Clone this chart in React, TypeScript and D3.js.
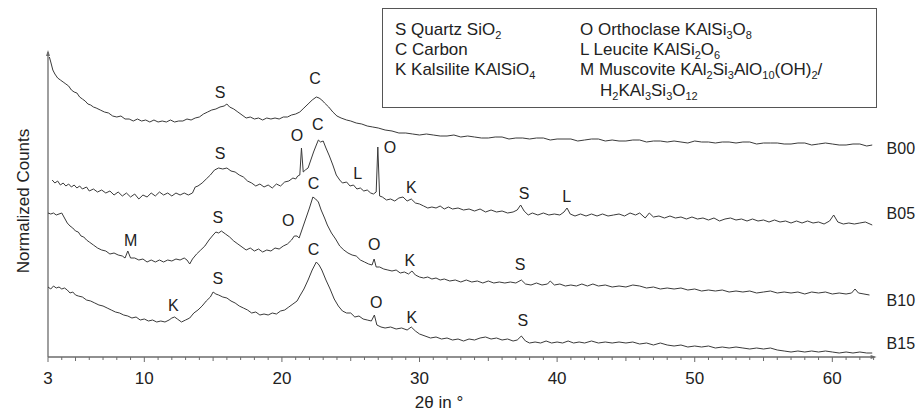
import React from "react";
import * as d3 from "d3";

// ---- data (2θ in degrees, normalized counts incl. stacking offset) ----
const b00: [number, number][] = [
  [3.1, 300], [3.2, 295], [3.35, 287], [3.5, 283], [3.7, 279], [3.9, 277], [4.1, 275], [4.3, 273], [4.5, 271],
  [4.7, 267], [4.9, 265], [5.1, 264], [5.3, 260], [5.5, 258], [5.7, 256], [5.9, 253], [6.1, 252], [6.3, 250],
  [6.5, 249], [6.8, 247], [7.1, 245], [7.4, 244], [7.7, 241], [8.0, 240], [8.3, 241], [8.6, 238], [8.9, 238],
  [9.2, 236], [9.5, 238], [9.8, 236], [10.1, 237], [10.4, 235], [10.7, 237], [11.0, 235], [11.3, 236], [11.6, 235],
  [11.9, 237], [12.2, 235], [12.5, 236], [12.8, 236], [13.1, 238], [13.4, 237], [13.7, 239], [14.0, 240],
  [14.3, 243], [14.6, 245], [14.9, 247], [15.2, 248], [15.5, 250], [15.8, 251], [16.0, 253], [16.2, 250],
  [16.5, 248], [16.8, 245], [17.1, 242], [17.4, 239], [17.7, 240], [18.0, 238], [18.3, 239], [18.6, 237],
  [18.9, 239], [19.2, 238], [19.5, 239], [19.8, 238], [20.1, 240], [20.4, 240], [20.7, 242], [21.0, 243],
  [21.3, 245], [21.6, 249], [21.9, 253], [22.2, 257], [22.5, 260], [22.7, 259], [22.9, 257], [23.1, 254],
  [23.4, 250], [23.7, 245], [24.0, 241], [24.3, 239], [24.7, 237], [25.0, 236], [25.4, 234], [25.8, 233],
  [26.2, 231], [26.6, 230], [27.0, 229], [27.5, 227], [28.0, 226], [28.5, 224], [29.0, 224], [29.5, 223],
  [30.0, 222], [30.5, 223], [31.0, 222], [31.5, 221], [32.0, 221], [32.5, 222], [33.0, 220], [33.5, 221],
  [34.0, 220], [34.5, 219], [35.0, 219], [35.5, 220], [36.0, 220], [36.5, 218], [37.0, 219], [37.5, 219],
  [38.0, 218], [38.5, 219], [39.0, 219], [39.5, 217], [40.0, 218], [40.5, 218], [41.0, 218], [41.5, 216],
  [42.0, 217], [42.5, 218], [43.0, 218], [43.5, 216], [44.0, 217], [44.5, 216], [45.0, 216], [45.5, 217],
  [46.0, 217], [46.5, 215], [47.0, 216], [47.5, 216], [48.0, 215], [48.5, 216], [49.0, 215], [49.5, 214],
  [50.0, 216], [50.5, 215], [51.0, 215], [51.5, 214], [52.0, 215], [52.5, 215], [53.0, 214], [53.5, 215],
  [54.0, 215], [54.5, 213], [55.0, 214], [55.5, 214], [56.0, 214], [56.5, 213], [57.0, 213], [57.5, 214],
  [58.0, 214], [58.5, 212], [59.0, 213], [59.5, 214], [60.0, 213], [60.5, 212], [61.0, 212], [61.5, 213],
  [62.0, 213], [62.5, 211], [62.9, 212],
];

const b05: [number, number][] = [
  [3.3, 177], [3.5, 174], [3.7, 176], [3.9, 172], [4.1, 174], [4.3, 171], [4.5, 173], [4.7, 170], [4.9, 172],
  [5.1, 169], [5.3, 171], [5.5, 168], [5.8, 170], [6.0, 166], [6.3, 168], [6.6, 165], [6.9, 167], [7.2, 164],
  [7.5, 166], [7.8, 162], [8.1, 165], [8.4, 161], [8.7, 164], [9.0, 160], [9.3, 163], [9.6, 158], [9.9, 162],
  [10.2, 160], [10.5, 164], [10.8, 161], [11.1, 165], [11.4, 162], [11.7, 164], [12.0, 161], [12.3, 164],
  [12.6, 162], [12.9, 164], [13.2, 162], [13.5, 164], [13.7, 170], [13.9, 171], [14.2, 174], [14.5, 178],
  [14.8, 182], [15.1, 187], [15.4, 189], [15.7, 188], [16.0, 189], [16.3, 186], [16.6, 185], [16.9, 182],
  [17.2, 180], [17.5, 176], [17.8, 174], [18.1, 171], [18.4, 173], [18.7, 170], [19.0, 172], [19.3, 169],
  [19.6, 173], [19.9, 171], [20.2, 175], [20.5, 176], [20.8, 179], [21.0, 178], [21.15, 181], [21.3, 182],
  [21.42, 209], [21.55, 185], [21.7, 187], [21.9, 189], [22.1, 197], [22.3, 205], [22.5, 212], [22.65, 217],
  [22.8, 215], [23.0, 216], [23.2, 209], [23.45, 201], [23.7, 192], [23.95, 182], [24.2, 177], [24.4, 174],
  [24.7, 175], [24.95, 171], [25.2, 172], [25.45, 168], [25.7, 169], [25.95, 166], [26.2, 167], [26.45, 164],
  [26.65, 163], [26.85, 165], [26.97, 210], [27.1, 161], [27.3, 160], [27.6, 157], [27.9, 158], [28.2, 156],
  [28.5, 159], [28.8, 160], [29.1, 156], [29.4, 158], [29.7, 154], [30.0, 153], [30.3, 151], [30.6, 149],
  [30.9, 150], [31.2, 149], [31.5, 151], [31.8, 148], [32.1, 150], [32.4, 148], [32.8, 149], [33.2, 147],
  [33.6, 148], [34.0, 146], [34.4, 148], [34.8, 145], [35.2, 147], [35.6, 145], [36.0, 146], [36.4, 144],
  [36.8, 145], [37.1, 147], [37.35, 152], [37.6, 146], [37.9, 142], [38.2, 144], [38.6, 142], [39.0, 144],
  [39.4, 142], [39.8, 143], [40.2, 142], [40.5, 145], [40.72, 149], [40.95, 143], [41.3, 141], [41.7, 143],
  [42.1, 141], [42.5, 143], [42.9, 141], [43.3, 143], [43.7, 141], [44.1, 142], [44.5, 143], [44.9, 141],
  [45.3, 144], [45.7, 142], [46.0, 144], [46.4, 139], [46.7, 144], [47.0, 140], [47.4, 141], [47.8, 139],
  [48.2, 141], [48.6, 139], [49.0, 140], [49.4, 138], [49.8, 140], [50.2, 138], [50.6, 139], [51.0, 137],
  [51.4, 139], [51.8, 136], [52.2, 138], [52.6, 139], [53.0, 137], [53.4, 138], [53.8, 136], [54.2, 138],
  [54.6, 136], [55.0, 137], [55.4, 135], [55.8, 137], [56.2, 135], [56.6, 136], [57.0, 134], [57.4, 136],
  [57.8, 134], [58.2, 136], [58.6, 134], [59.0, 135], [59.4, 133], [59.8, 136], [60.1, 142], [60.4, 135],
  [60.8, 133], [61.2, 134], [61.6, 133], [62.0, 134], [62.4, 135], [62.9, 132],
];

const b10: [number, number][] = [
  [3.0, 144], [3.2, 143], [3.4, 144], [3.6, 142], [3.8, 143], [4.0, 144], [4.2, 139], [4.4, 134], [4.6, 131],
  [4.8, 129], [5.0, 126], [5.2, 125], [5.4, 121], [5.6, 120], [5.8, 117], [6.0, 115], [6.3, 112], [6.6, 109],
  [6.9, 107], [7.2, 106], [7.5, 103], [7.8, 104], [8.1, 102], [8.4, 101], [8.6, 99], [8.8, 106], [9.0, 99],
  [9.3, 99], [9.6, 97], [9.9, 98], [10.2, 95], [10.5, 97], [10.8, 95], [11.1, 97], [11.4, 95], [11.7, 97],
  [12.0, 96], [12.3, 98], [12.6, 97], [12.9, 99], [13.1, 97], [13.3, 93], [13.5, 98], [13.8, 103], [14.1, 107],
  [14.4, 111], [14.7, 117], [15.0, 122], [15.2, 125], [15.4, 124], [15.6, 126], [15.9, 123], [16.2, 120],
  [16.5, 116], [16.8, 113], [17.1, 110], [17.4, 107], [17.7, 109], [18.0, 106], [18.3, 108], [18.6, 105],
  [18.9, 107], [19.2, 106], [19.5, 109], [19.8, 108], [20.1, 111], [20.4, 113], [20.7, 117], [20.9, 121],
  [21.1, 121], [21.25, 119], [21.5, 129], [21.8, 141], [22.0, 149], [22.25, 160], [22.45, 158], [22.65, 155],
  [22.85, 147], [23.1, 139], [23.3, 132], [23.6, 124], [23.9, 118], [24.2, 111], [24.5, 107], [24.8, 104],
  [25.1, 102], [25.4, 101], [25.7, 97], [26.0, 95], [26.3, 93], [26.55, 92], [26.7, 98], [26.85, 90],
  [27.1, 90], [27.4, 88], [27.7, 87], [28.0, 86], [28.3, 87], [28.6, 84], [28.9, 85], [29.2, 83], [29.45, 86],
  [29.7, 82], [30.0, 80], [30.3, 79], [30.6, 80], [30.9, 78], [31.2, 79], [31.5, 77], [31.8, 78], [32.2, 76],
  [32.6, 77], [33.0, 75], [33.4, 77], [33.8, 75], [34.2, 76], [34.6, 74], [35.0, 76], [35.4, 74], [35.8, 75],
  [36.2, 74], [36.6, 75], [37.0, 74], [37.4, 77], [37.7, 73], [38.1, 72], [38.5, 74], [38.9, 72], [39.3, 73],
  [39.5, 76], [39.8, 72], [40.2, 73], [40.6, 71], [41.0, 72], [41.4, 71], [41.8, 73], [42.2, 71], [42.6, 73],
  [43.0, 71], [43.5, 72], [44.0, 70], [44.5, 71], [45.0, 70], [45.5, 72], [46.0, 71], [46.5, 69], [47.0, 70],
  [47.5, 68], [48.0, 69], [48.5, 68], [49.0, 69], [49.5, 67], [50.0, 68], [50.5, 66], [51.0, 67], [51.5, 66],
  [52.0, 67], [52.5, 65], [53.0, 66], [53.5, 65], [54.0, 66], [54.5, 64], [55.0, 65], [55.5, 66], [56.0, 64],
  [56.5, 65], [57.0, 64], [57.5, 65], [58.0, 63], [58.5, 65], [59.0, 64], [59.5, 65], [60.0, 63], [60.5, 64],
  [61.0, 63], [61.4, 64], [61.65, 68], [61.9, 64], [62.3, 63], [62.7, 62],
];

const b15: [number, number][] = [
  [3.0, 70], [3.2, 68], [3.4, 71], [3.6, 69], [3.8, 70], [4.0, 68], [4.2, 69], [4.4, 67], [4.6, 64], [4.8, 65],
  [5.0, 62], [5.2, 61], [5.5, 60], [5.8, 57], [6.1, 56], [6.4, 54], [6.7, 52], [7.0, 51], [7.3, 49], [7.6, 47],
  [7.9, 45], [8.2, 44], [8.5, 42], [8.8, 41], [9.1, 39], [9.4, 40], [9.7, 37], [10.0, 38], [10.3, 36], [10.6, 37],
  [10.9, 35], [11.2, 36], [11.5, 35], [11.8, 37], [12.0, 39], [12.2, 40], [12.4, 38], [12.7, 35], [13.0, 37],
  [13.3, 39], [13.6, 44], [13.9, 47], [14.2, 51], [14.5, 56], [14.8, 60], [15.0, 65], [15.2, 63], [15.4, 62],
  [15.7, 60], [16.0, 59], [16.3, 56], [16.6, 54], [16.9, 51], [17.2, 49], [17.5, 47], [17.8, 44], [18.1, 45],
  [18.4, 42], [18.7, 43], [19.0, 42], [19.3, 44], [19.6, 43], [19.9, 46], [20.2, 47], [20.5, 50], [20.8, 53],
  [21.1, 56], [21.3, 61], [21.6, 68], [21.9, 77], [22.2, 87], [22.5, 95], [22.7, 92], [22.9, 87], [23.2, 77],
  [23.5, 68], [23.8, 58], [24.1, 51], [24.4, 46], [24.7, 44], [25.0, 44], [25.3, 40], [25.6, 41], [25.9, 38],
  [26.2, 37], [26.5, 36], [26.72, 42], [26.9, 32], [27.2, 30], [27.5, 29], [27.9, 30], [28.3, 28], [28.7, 29],
  [29.1, 27], [29.4, 30], [29.7, 26], [30.0, 23], [30.4, 21], [30.8, 19], [31.2, 20], [31.6, 18], [32.0, 19],
  [32.4, 17], [32.8, 18], [33.2, 16], [33.6, 18], [34.0, 17], [34.4, 19], [34.8, 20], [35.2, 18], [35.6, 19],
  [36.0, 17], [36.4, 18], [36.8, 16], [37.1, 17], [37.4, 21], [37.7, 16], [38.0, 14], [38.4, 15], [38.8, 14],
  [39.2, 16], [39.6, 14], [40.0, 15], [40.4, 14], [40.8, 16], [41.2, 14], [41.6, 15], [42.0, 14], [42.5, 16],
  [43.0, 14], [43.5, 15], [44.0, 14], [44.5, 15], [45.0, 14], [45.5, 15], [46.0, 13], [46.5, 14], [47.0, 12],
  [47.5, 14], [48.0, 12], [48.5, 11], [49.0, 12], [49.5, 10], [50.0, 11], [50.5, 10], [51.0, 11], [51.5, 9],
  [52.0, 10], [52.5, 9], [53.0, 10], [53.5, 9], [54.0, 8], [54.5, 9], [55.0, 8], [55.5, 9], [56.0, 7],
  [56.5, 6], [57.0, 5], [57.5, 6], [58.0, 5], [58.5, 6], [59.0, 5], [59.5, 6], [60.0, 5], [60.5, 4], [61.0, 5],
  [61.5, 4], [62.0, 5], [62.5, 4], [62.9, 4],
];

const seriesNames = ["B00", "B05", "B10", "B15"];
const seriesLabelY = [209, 144, 57, 14];

// peak annotations: [letter, 2θ, height]
const peaksB00: [string, number, number][] = [["S", 15.5, 265], ["C", 22.4, 279]];
const peaksB05: [string, number, number][] = [
  ["S", 15.5, 204], ["O", 21.1, 222], ["C", 22.6, 233], ["L", 25.5, 184], ["O", 27.85, 210],
  ["K", 29.4, 170], ["S", 37.6, 164], ["L", 40.7, 161],
];
const peaksB10: [string, number, number][] = [
  ["M", 9.0, 117], ["S", 15.35, 140], ["O", 20.45, 137], ["C", 22.3, 174], ["O", 26.7, 113],
  ["K", 29.3, 97], ["S", 37.3, 93],
];
const peaksB15: [string, number, number][] = [
  ["K", 12.1, 52], ["S", 15.35, 79], ["C", 22.3, 108], ["O", 26.85, 55], ["K", 29.45, 40], ["S", 37.5, 37],
];

// legend rows: segments, "_x" marks a subscript
const legendCol1 = [["S Quartz SiO", "_2"], ["C Carbon"], ["K Kalsilite KAlSiO", "_4"]];
const legendCol2 = [
  ["O Orthoclase KAlSi", "_3", "O", "_8"],
  ["L Leucite KAlSi", "_2", "O", "_6"],
  ["M Muscovite KAl", "_2", "Si", "_3", "AlO", "_10", "(OH)", "_2", "/"],
];
const legendCont = ["H", "_2", "KAl", "_3", "Si", "_3", "O", "_12"];

const xTickLabels = [3, 10, 20, 30, 40, 50, 60];
const xDomain: [number, number] = [3, 63];
const yDomain: [number, number] = [0, 305];

const FONT = "'Liberation Sans', Arial, Helvetica, sans-serif";

function Formula({ segs, x, y }: { segs: string[]; x: number; y: number }) {
  let prevSub = false;
  return (
    <text x={x} y={y}>
      {segs.map((s, i) => {
        const isSub = s.startsWith("_");
        const dy = isSub ? (prevSub ? 0 : 4) : prevSub ? -4 : 0;
        prevSub = isSub;
        return (
          <tspan key={i} dy={dy} fontSize={isSub ? 11 : 17}>
            {isSub ? s.slice(1) : s}
          </tspan>
        );
      })}
    </text>
  );
}

export default function App() {
  const W = 921, H = 414;
  const x = d3.scaleLinear().domain(xDomain).range([48, 873.6]);
  const y = d3.scaleLinear().domain(yDomain).range([357, 52]);
  const line = d3.line<[number, number]>().x((d) => x(d[0])).y((d) => y(d[1]));
  const all = [b00, b05, b10, b15];
  const peaks = [...peaksB00, ...peaksB05, ...peaksB10, ...peaksB15];
  const minor = d3.range(3, 64, 1);
  const ink = "#3a3a3a";
  const axisCol = "#6b6b6b";
  return (
    <svg width={W} height={H} style={{ position: "absolute", left: 0, top: 0, background: "#fff" }}
      fontFamily={FONT}>
      <rect x={0} y={0} width={W} height={H} fill="#fff" />
      {/* axes */}
      <line x1={48} y1={y(0)} x2={x(63) + 1} y2={y(0)} stroke={axisCol} strokeWidth={1.3} />
      <path d={`M${x(63) + 3},${y(0)} L${x(63) - 3},${y(0) - 2} L${x(63) - 3},${y(0) + 2} Z`} fill={axisCol} />
      <line x1={48} y1={y(0)} x2={48} y2={y(305)} stroke={axisCol} strokeWidth={1.3} />
      <path d={`M48,${y(305) - 2} L46,${y(305) + 4} L50,${y(305) + 4} Z`} fill={axisCol} />
      {minor.map((v) => {
        const len = v % 10 === 0 || v === 3 ? 5 : v % 5 === 0 ? 4 : 3;
        return <line key={v} x1={x(v)} x2={x(v)} y1={y(0)} y2={y(0) + len} stroke={axisCol} strokeWidth={1} />;
      })}
      {xTickLabels.map((v) => (
        <text key={v} x={x(v)} y={384} fontSize={17} textAnchor="middle" fill="#222">{v}</text>
      ))}
      <text x={439} y={408} fontSize={17} textAnchor="middle" fill="#222">2θ in °</text>
      <text transform="translate(29,201) rotate(-90)" fontSize={17} textAnchor="middle" fill="#222">
        Normalized Counts
      </text>
      {/* curves */}
      {all.map((s, i) => (
        <path key={i} d={line(s) || ""} fill="none" stroke={ink} strokeWidth={1} strokeLinejoin="round" />
      ))}
      {seriesNames.map((n, i) => (
        <text key={n} x={x(63) + 13} y={y(seriesLabelY[i])} fontSize={16} dominantBaseline="central" fill="#222">{n}</text>
      ))}
      {peaks.map((p, i) => (
        <text key={i} x={x(p[1])} y={y(p[2])} fontSize={16} textAnchor="middle" dominantBaseline="central" fill="#222">
          {p[0]}
        </text>
      ))}
      {/* legend */}
      <rect x={382.5} y={8.5} width={494} height={99} fill="#fff" stroke="#555" strokeWidth={1} />
      <g fontSize={17} fill="#222">
        {legendCol1.map((segs, i) => (
          <Formula key={"a" + i} segs={segs} x={395} y={35 + i * 20} />
        ))}
        {legendCol2.map((segs, i) => (
          <Formula key={"b" + i} segs={segs} x={580} y={35 + i * 20} />
        ))}
        <Formula segs={legendCont} x={600} y={96} />
      </g>
    </svg>
  );
}
